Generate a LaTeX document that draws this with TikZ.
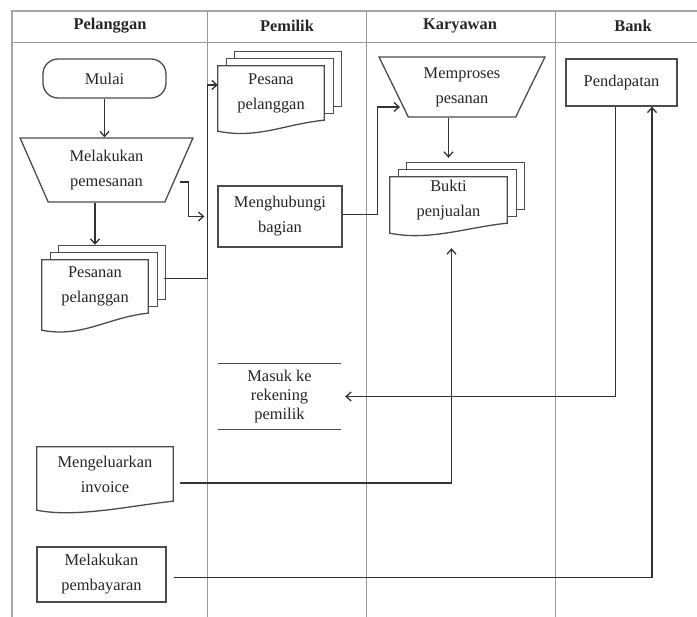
\documentclass[tikz,border=0pt]{standalone}
\usepackage{fontspec}
\setmainfont{Liberation Serif}
\usetikzlibrary{shapes.geometric,arrows.meta,backgrounds}

\tikzset{
  base/.style={align=center, inner sep=0pt, text=black!85,
    font=\fontsize{16.4}{25}\selectfont},
  head/.style={base, font=\fontsize{16.4}{20}\selectfont\bfseries},
  proc/.style={base, draw=black!70, line width=1.3pt},
  term/.style={proc, rounded corners=15pt},
  manual/.style={proc, trapezium, trapezium stretches=true, shape border rotate=180},
  docnode/.style={base},
  shapeline/.style={draw=black!70, line width=1.3pt, fill=white},
  lane/.style={draw=black!40, line width=0.9pt},
  frame/.style={draw=black!35, line width=1.6pt},
  flow/.style={draw=black!80, line width=1.3pt, -{Straight Barb[length=5pt,width=9pt]}}
}

% document page with a wavy lower edge
\newcommand{\docpage}[2]{%
  \draw[shapeline] (#1.north west) -- (#1.north east) -- (#1.south east)
    .. controls +(-40,4) and +(40,8) .. ([yshift=-#2pt]#1.south west) -- cycle;
}
% stack of three pages
\newcommand{\docstack}[2]{%
  \foreach \dx/\dy in {17/14, 9/7} {
    \draw[shapeline] ([xshift=\dx pt,yshift=\dy pt]#1.north west)
      rectangle ([xshift=\dx pt,yshift=\dy pt]#1.south east);
  }
  \docpage{#1}{#2}
}

\begin{document}
\begin{tikzpicture}[x=1pt, y=-1pt]
\useasboundingbox (0,0) rectangle (697,617);

% headers
\node[head] (hpelanggan) at (110,26)  {Pelanggan};
\node[head] (hpemilik)   at (287,26)  {Pemilik};
\node[head] (hkaryawan)  at (460,26)  {Karyawan};
\node[head] (hbank)      at (633,26)  {Bank};

% Pelanggan
\node[term, minimum width=123pt, minimum height=39pt] (mulai) at (104.5,78.5) {Mulai};
\node[manual, trapezium angle=66, minimum width=173pt, minimum height=64pt] (pesan) at (106.5,170) {Melakukan\\pemesanan};
\node[docnode, minimum width=106pt, minimum height=53pt] (pesanan) at (95,286.5) {Pesanan\\pelanggan};
\node[docnode, minimum width=136pt, minimum height=54pt] (invoice) at (105,474) {Mengeluarkan\\invoice};
\node[proc, minimum width=129pt, minimum height=55pt] (pembayaran) at (101.5,574.5) {Melakukan\\pembayaran};

% Pemilik
\node[docnode, minimum width=106pt, minimum height=54pt] (pesana) at (271,93) {Pesana\\pelanggan};
\node[proc, minimum width=124pt, minimum height=61pt] (hubungi) at (280,216.5) {Menghubungi\\bagian};
\node[base, minimum width=123pt, minimum height=65pt, font=\fontsize{16.4}{19}\selectfont] (rekening) at (279.5,396.5) {Masuk ke\\rekening\\pemilik};

% Karyawan
\node[manual, trapezium angle=62, minimum width=166pt, minimum height=60pt] (memproses) at (462,87) {Memproses\\pesanan};
\node[docnode, minimum width=117pt, minimum height=46pt] (bukti) at (448.5,200) {Bukti\\penjualan};

% Bank
\node[proc, minimum width=111pt, minimum height=47pt] (pendapatan) at (621.5,82.5) {Pendapatan};

\begin{scope}[on background layer]
  \draw[frame] (12,617) -- (12,11) -- (697,11);
  \draw[lane] (12,42) -- (697,42);
  \foreach \x in {207,366,555}
    \draw[lane] (\x,11) -- (\x,617);
  \docstack{pesanan}{17}
  \docstack{pesana}{11}
  \docstack{bukti}{10}
  \docpage{invoice}{9}
  \draw[shapeline] (rekening.north west) -- (rekening.north east)
    (rekening.south west) -- (rekening.south east);
\end{scope}

\path
(mulai.south) edge[flow] (mulai.south |- pesan.north)
(pesan.south -| pesanan.north) edge[flow, shorten >=15pt] (pesanan.north)
(bukti.north |- memproses.south) edge[flow, shorten >=19pt] (bukti.north);

\draw[flow, shorten >=13pt] ([yshift=-12pt]pesan.east) -- ++(9,0) |- (hubungi.west);
\draw[flow] ([xshift=16pt,yshift=8pt]pesanan.east) -- ++(43,0) |- ([yshift=8pt]pesana.west);
\draw[flow] ([yshift=2pt]hubungi.east) -- ++(35,0) |- ([xshift=7pt,yshift=-20pt]memproses.west);
\draw[flow, shorten >=4pt] ([xshift=-6pt]pendapatan.south) |- (rekening.east);
\draw[flow, shorten <=7pt, shorten >=25pt] ([yshift=-9pt]invoice.east) -| ([xshift=3pt]bukti.south);
\draw[flow, shorten <=7pt] ([yshift=-3pt]pembayaran.east) -| ([xshift=30.5pt]pendapatan.south);
\end{tikzpicture}
\end{document}
